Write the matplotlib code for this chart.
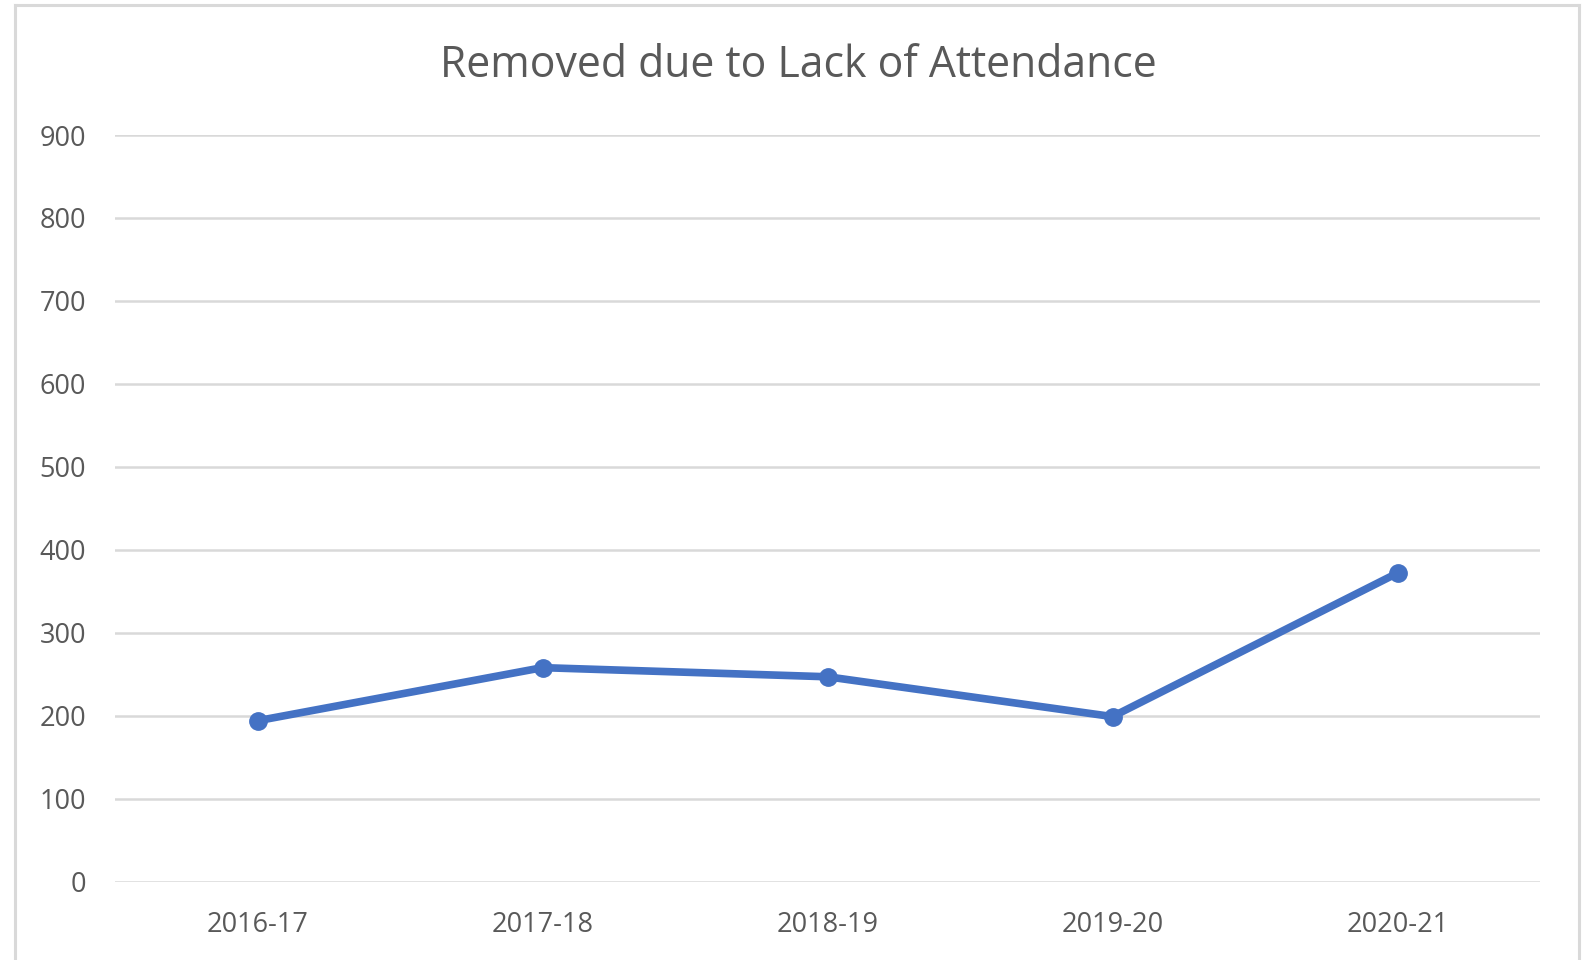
import matplotlib
matplotlib.use("Agg")
import matplotlib.pyplot as plt
from matplotlib.lines import Line2D

categories = ["2016-17", "2017-18", "2018-19", "2019-20", "2020-21"]
values = [194, 258, 247, 199, 372]
yticks = [0, 100, 200, 300, 400, 500, 600, 700, 800, 900]
title = "Removed due to Lack of Attendance"

plt.rcParams['font.family'] = ['Open Sans', 'DejaVu Sans']
W, H = 1583, 960
fig = plt.figure(figsize=(W / 100, H / 100), dpi=100)
ax = fig.add_axes([115 / W, 1 - 881.7 / H, (1540 - 115) / W, (881.7 - 135) / H])

text_color = "#595959"
grid_color = "#D9D9D9"
line_color = "#4472C4"

x = list(range(len(categories)))
ax.plot(x, values, color=line_color, linewidth=5.5, marker="o", markersize=12.5,
        solid_capstyle="round", zorder=3, clip_on=False)

ax.set_xlim(-0.5, len(categories) - 0.5)
ax.set_ylim(0, 900)
ax.set_yticks(yticks)
ax.set_yticklabels([str(v) for v in yticks])
ax.set_xticks(x)
ax.set_xticklabels(categories)
ax.yaxis.grid(True, color=grid_color, linewidth=1.8)
ax.set_axisbelow(True)
for s in ax.spines.values():
    s.set_visible(False)
ax.tick_params(axis="both", length=0, labelsize=19.5, labelcolor=text_color)
ax.tick_params(axis="y", pad=21)
ax.tick_params(axis="x", pad=21)

fig.text(798 / W, 1 - 66 / H, title, ha="center", va="center",
         fontsize=30.8, color=text_color)

# chart border
bx0, bx1, by0 = 15 / W, 1579 / W, 1 - 5 / H
for xs, ys in [([bx0, bx0], [0, by0]), ([bx0, bx1], [by0, by0]), ([bx1, bx1], [by0, 0])]:
    fig.add_artist(Line2D(xs, ys, transform=fig.transFigure, color=grid_color, linewidth=2.2))

fig.savefig("out.png", dpi=100, facecolor="white")
